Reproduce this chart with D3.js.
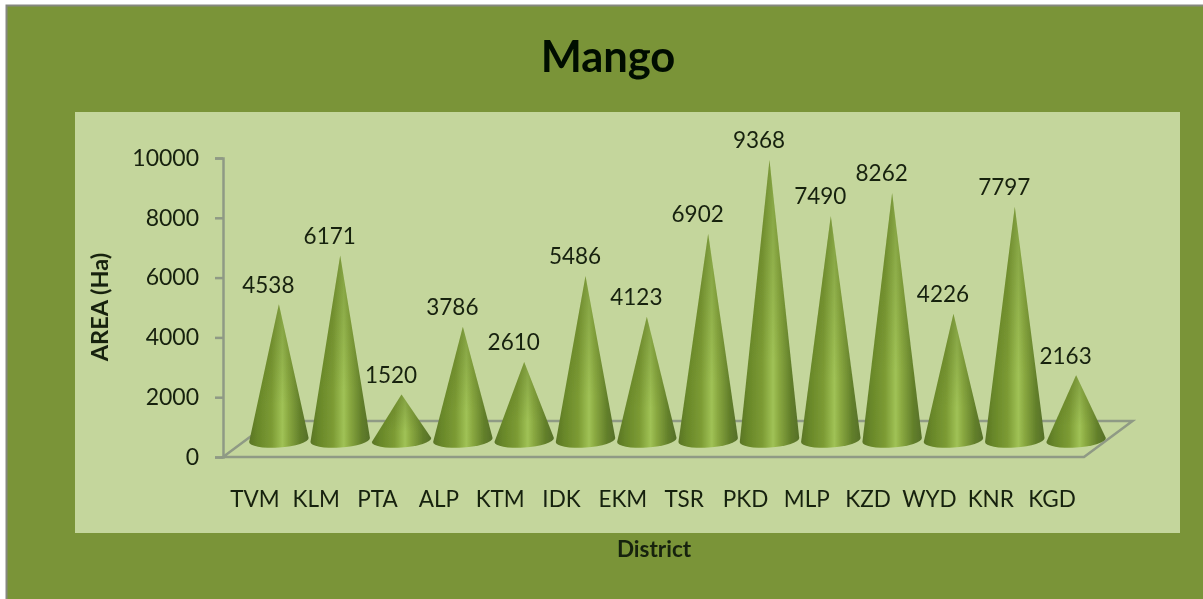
<!DOCTYPE html>
<html><head><meta charset="utf-8">
<style>html,body{margin:0;padding:0;background:#fff;overflow:hidden}svg{display:block}text{font-family:Lato,"Open Sans",sans-serif;fill:#17200f}</style>
<script src="https://cdnjs.cloudflare.com/ajax/libs/d3/7.8.5/d3.min.js"></script>
</head><body><svg id="c" width="1203" height="599"></svg>
<script>
const districts=["TVM","KLM","PTA","ALP","KTM","IDK","EKM","TSR","PKD","MLP","KZD","WYD","KNR","KGD"];
const areas=[4538,6171,1520,3786,2610,5486,4123,6902,9368,7490,8262,4226,7797,2163];
const yTicks=[0,2000,4000,6000,8000,10000];
const titleText="Mango", yTitle="AREA (Ha)", xTitle="District";

const svg=d3.select("#c");
const x=d3.scaleBand().domain(districts).range([247.3,1107.7]).padding(0.03);
const y=d3.scaleLinear().domain([0,10000]).range([457,158]);
const depthY=17, baseRy=7.5, axisX=223;
const cx=d=>x(d)+x.bandwidth()/2;

const defs=svg.append("defs");
const g=defs.append("linearGradient").attr("id","cone");
[[0,"#5a7526"],[0.14,"#688729"],[0.38,"#7c9b34"],[0.56,"#a0c256"],[0.66,"#8aa941"],[0.86,"#627f2a"],[1,"#556f28"]]
 .forEach(([o,c])=>g.append("stop").attr("offset",o).attr("stop-color",c));
const sh=defs.append("linearGradient").attr("id","shade").attr("x1",0).attr("y1",0).attr("x2",0).attr("y2",1);
sh.append("stop").attr("offset",0).attr("stop-color","#3d5212").attr("stop-opacity",0.3);
sh.append("stop").attr("offset",0.7).attr("stop-color","#3d5212").attr("stop-opacity",0);
defs.append("filter").attr("id","soft").append("feGaussianBlur").attr("stdDeviation",0.5);
defs.append("filter").attr("id","softT").append("feGaussianBlur").attr("stdDeviation",0.35);

svg.append("rect").attr("x",6).attr("y",5).attr("width",1197).attr("height",594).attr("fill","#7a9438");
svg.append("path").attr("d","M6.5,599V5.5H1203").attr("fill","none").attr("stroke","#85887f").attr("stroke-width",2);
svg.append("rect").attr("x",75).attr("y",112).attr("width",1105).attr("height",421).attr("fill","#c4d69c");

const txt=svg.append("g").attr("filter","url(#softT)");
txt.append("text").attr("x",608).attr("y",57).attr("dy","0.35em").attr("text-anchor","middle")
  .attr("font-size",43.5).attr("font-weight",700).style("fill","#060a04").text(titleText);

// floor
const x0=axisX, x1=1084, dx=48.5, yb=y(0), yt=y(0)-36;
svg.append("path").attr("fill","none").attr("stroke","#8f9a85").attr("stroke-width",2.5)
  .attr("d",`M${x0},${yb}L${x1},${yb}L${x1+dx},${yt}L${x0+dx},${yt}Z`);

// y axis
const ax=svg.append("g").attr("transform",`translate(${axisX},0)`).call(d3.axisLeft(y).tickValues(yTicks).tickSize(8).tickPadding(16).tickFormat(d3.format("d")));
ax.selectAll("path,line").attr("stroke","#8f9a85").attr("stroke-width",2.5);
ax.selectAll("text").attr("font-size",23).style("font-family",'Lato,"Open Sans",sans-serif').style("fill","#17200f").attr("filter","url(#softT)");

// cones
const conePath=(d,i)=>{
  const c=cx(d), r=x.bandwidth()/2, by=y(0)-depthY, tip=y(areas[i])-depthY, t=2;
  return `M${c-r},${by+t}L${c},${tip}L${c+r},${by-t}A${r},${baseRy} -4 0 1 ${c-r},${by+t}Z`;
};
const cones=svg.append("g").attr("filter","url(#soft)");
cones.selectAll(".b").data(districts).join("path").attr("class","b").attr("fill","url(#cone)").attr("d",conePath);
cones.selectAll(".s").data(districts).join("path").attr("class","s").attr("fill","url(#shade)").attr("d",conePath);

// value labels
txt.selectAll(".v").data(districts).join("text").attr("class","v")
  .attr("x",d=>cx(d)-10.5).attr("y",(d,i)=>y(areas[i])-depthY-19.5).attr("dy","0.35em")
  .attr("text-anchor","middle").attr("font-size",22.5).text((d,i)=>areas[i]);

// category labels
txt.selectAll(".c").data(districts).join("text").attr("class","c")
  .attr("x",d=>cx(d)-24).attr("y",499).attr("dy","0.35em")
  .attr("text-anchor","middle").attr("font-size",22.5).text(d=>d);

txt.append("text").attr("transform","translate(100,307) rotate(-90)").attr("dy","0.35em")
  .attr("text-anchor","middle").attr("font-size",23.5).attr("font-weight",700).text(yTitle);
txt.append("text").attr("x",654).attr("y",549).attr("dy","0.35em")
  .attr("text-anchor","middle").attr("font-size",22.5).attr("font-weight",700).text(xTitle);
</script></body></html>
